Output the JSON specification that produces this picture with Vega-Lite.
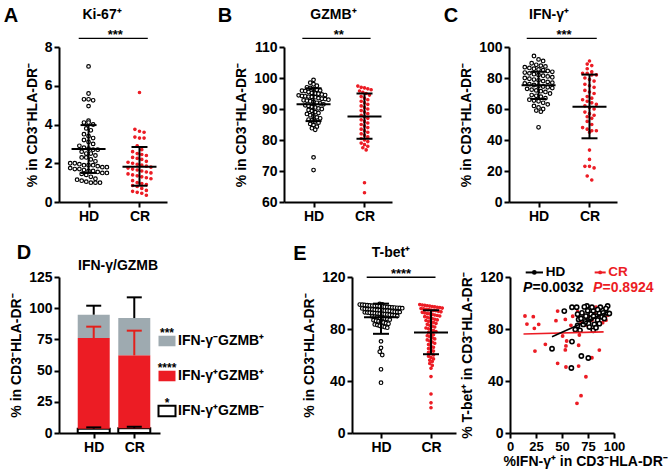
{
"$schema":"https://vega.github.io/schema/vega-lite/v6.json",
"background":"#ffffff",
"padding":{"left":3,"top":6,"right":5,"bottom":5},
"config":{
 "font":"Liberation Sans",
 "view":{"stroke":null},
 "axis":{"grid":false,"domainColor":"#000000","domainWidth":2,"tickColor":"#000000","tickWidth":2,"tickSize":5,"labelColor":"#000000","labelFontWeight":"bold","labelFontSize":14,"labelPadding":2,"titleColor":"#000000","titleFontWeight":"bold","titleFontSize":14,"titlePadding":5,"labelFont":"Liberation Sans","titleFont":"Liberation Sans"},
 "axisX":{"labelAngle":0,"labelFlush":false},
 "text":{"fontWeight":"bold","font":"Liberation Sans","color":"#000000"},
 "point":{"opacity":1},"tick":{"opacity":1}
},
"datasets":{
 "a":[{"g":"HD","v":7.0},{"g":"HD","v":5.6},{"g":"HD","v":5.3},{"g":"HD","v":5.3},{"g":"HD","v":5.25},{"g":"HD","v":4.95},{"g":"HD","v":4.2},{"g":"HD","v":4.1},{"g":"HD","v":4.1},{"g":"HD","v":4.0},{"g":"HD","v":3.8},{"g":"HD","v":3.7},{"g":"HD","v":3.5},{"g":"HD","v":3.4},{"g":"HD","v":3.3},{"g":"HD","v":3.2},{"g":"HD","v":3.1},{"g":"HD","v":3.0},{"g":"HD","v":2.9},{"g":"HD","v":2.8},{"g":"HD","v":2.75},{"g":"HD","v":2.7},{"g":"HD","v":2.7},{"g":"HD","v":2.6},{"g":"HD","v":2.5},{"g":"HD","v":2.5},{"g":"HD","v":2.4},{"g":"HD","v":2.3},{"g":"HD","v":2.3},{"g":"HD","v":2.2},{"g":"HD","v":2.1},{"g":"HD","v":2.0},{"g":"HD","v":2.0},{"g":"HD","v":1.95},{"g":"HD","v":1.9},{"g":"HD","v":1.9},{"g":"HD","v":1.9},{"g":"HD","v":1.85},{"g":"HD","v":1.8},{"g":"HD","v":1.8},{"g":"HD","v":1.75},{"g":"HD","v":1.7},{"g":"HD","v":1.7},{"g":"HD","v":1.65},{"g":"HD","v":1.6},{"g":"HD","v":1.6},{"g":"HD","v":1.55},{"g":"HD","v":1.5},{"g":"HD","v":1.5},{"g":"HD","v":1.45},{"g":"HD","v":1.4},{"g":"HD","v":1.3},{"g":"HD","v":1.2},{"g":"HD","v":1.15},{"g":"HD","v":1.1},{"g":"HD","v":1.05},{"g":"HD","v":1.0},{"g":"HD","v":1.0},{"g":"HD","v":1.0},
 {"g":"CR","v":5.65},{"g":"CR","v":3.75},{"g":"CR","v":3.65},{"g":"CR","v":3.6},{"g":"CR","v":3.35},{"g":"CR","v":3.3},{"g":"CR","v":3.3},{"g":"CR","v":2.9},{"g":"CR","v":2.7},{"g":"CR","v":2.6},{"g":"CR","v":2.5},{"g":"CR","v":2.45},{"g":"CR","v":2.4},{"g":"CR","v":2.3},{"g":"CR","v":2.25},{"g":"CR","v":2.2},{"g":"CR","v":2.1},{"g":"CR","v":2.05},{"g":"CR","v":2.0},{"g":"CR","v":1.95},{"g":"CR","v":1.9},{"g":"CR","v":1.85},{"g":"CR","v":1.8},{"g":"CR","v":1.75},{"g":"CR","v":1.7},{"g":"CR","v":1.65},{"g":"CR","v":1.6},{"g":"CR","v":1.55},{"g":"CR","v":1.5},{"g":"CR","v":1.45},{"g":"CR","v":1.4},{"g":"CR","v":1.35},{"g":"CR","v":1.3},{"g":"CR","v":1.25},{"g":"CR","v":1.2},{"g":"CR","v":1.1},{"g":"CR","v":1.0},{"g":"CR","v":0.95},{"g":"CR","v":0.9},{"g":"CR","v":0.85},{"g":"CR","v":0.8},{"g":"CR","v":0.7},{"g":"CR","v":0.6},{"g":"CR","v":0.55},{"g":"CR","v":0.5},{"g":"CR","v":0.45},{"g":"CR","v":0.35}],
 "a_s":[{"g":"HD","m":2.73,"lo":1.5,"hi":3.97},{"g":"CR","m":1.82,"lo":0.84,"hi":2.84}],
 "b":[{"g":"HD","v":99.4},{"g":"HD","v":98.5},{"g":"HD","v":98},{"g":"HD","v":97.5},{"g":"HD","v":97},{"g":"HD","v":96.8},{"g":"HD","v":96.5},{"g":"HD","v":96.2},{"g":"HD","v":96},{"g":"HD","v":95.9},{"g":"HD","v":95.8},{"g":"HD","v":95.5},{"g":"HD","v":95.2},{"g":"HD","v":95},{"g":"HD","v":94.9},{"g":"HD","v":94.7},{"g":"HD","v":94.5},{"g":"HD","v":94.4},{"g":"HD","v":94.2},{"g":"HD","v":94.1},{"g":"HD","v":94},{"g":"HD","v":93.9},{"g":"HD","v":93.8},{"g":"HD","v":93.5},{"g":"HD","v":93.3},{"g":"HD","v":93.2},{"g":"HD","v":93},{"g":"HD","v":92.8},{"g":"HD","v":92.7},{"g":"HD","v":92.5},{"g":"HD","v":92.3},{"g":"HD","v":92},{"g":"HD","v":91.8},{"g":"HD","v":91.5},{"g":"HD","v":91.2},{"g":"HD","v":91},{"g":"HD","v":90.7},{"g":"HD","v":90.5},{"g":"HD","v":90.2},{"g":"HD","v":90},{"g":"HD","v":89.7},{"g":"HD","v":89.4},{"g":"HD","v":89},{"g":"HD","v":88.7},{"g":"HD","v":88.4},{"g":"HD","v":88},{"g":"HD","v":87.6},{"g":"HD","v":87.3},{"g":"HD","v":87},{"g":"HD","v":86.6},{"g":"HD","v":86.3},{"g":"HD","v":86},{"g":"HD","v":85.6},{"g":"HD","v":85.2},{"g":"HD","v":84.8},{"g":"HD","v":84.3},{"g":"HD","v":83.8},{"g":"HD","v":83.3},{"g":"HD","v":74.4},{"g":"HD","v":70.3},
 {"g":"CR","v":97.4},{"g":"CR","v":97},{"g":"CR","v":96.8},{"g":"CR","v":96.5},{"g":"CR","v":96.2},{"g":"CR","v":95.8},{"g":"CR","v":95.4},{"g":"CR","v":95},{"g":"CR","v":94.5},{"g":"CR","v":94},{"g":"CR","v":93.5},{"g":"CR","v":93},{"g":"CR","v":92.5},{"g":"CR","v":92},{"g":"CR","v":91.5},{"g":"CR","v":91},{"g":"CR","v":90.5},{"g":"CR","v":90},{"g":"CR","v":89.5},{"g":"CR","v":89},{"g":"CR","v":88.5},{"g":"CR","v":88},{"g":"CR","v":87.5},{"g":"CR","v":87},{"g":"CR","v":86.5},{"g":"CR","v":86},{"g":"CR","v":85.5},{"g":"CR","v":85},{"g":"CR","v":84.5},{"g":"CR","v":84},{"g":"CR","v":83.5},{"g":"CR","v":83},{"g":"CR","v":82.5},{"g":"CR","v":82},{"g":"CR","v":81.5},{"g":"CR","v":81},{"g":"CR","v":80.5},{"g":"CR","v":80},{"g":"CR","v":79.5},{"g":"CR","v":79},{"g":"CR","v":78.5},{"g":"CR","v":78},{"g":"CR","v":77.5},{"g":"CR","v":76.8},{"g":"CR","v":66.2},{"g":"CR","v":63.0}],
 "b_s":[{"g":"HD","m":91.5,"lo":86.1,"hi":96.7},{"g":"CR","m":87.6,"lo":80.4,"hi":95.0}],
 "c":[{"g":"HD","v":94.2},{"g":"HD","v":92},{"g":"HD","v":91},{"g":"HD","v":89.5},{"g":"HD","v":88.5},{"g":"HD","v":88},{"g":"HD","v":87.5},{"g":"HD","v":87},{"g":"HD","v":86.5},{"g":"HD","v":86},{"g":"HD","v":85.5},{"g":"HD","v":85},{"g":"HD","v":84.5},{"g":"HD","v":84},{"g":"HD","v":83.5},{"g":"HD","v":83},{"g":"HD","v":82.5},{"g":"HD","v":82},{"g":"HD","v":81.5},{"g":"HD","v":81},{"g":"HD","v":80.5},{"g":"HD","v":80},{"g":"HD","v":79.5},{"g":"HD","v":79},{"g":"HD","v":78.5},{"g":"HD","v":78},{"g":"HD","v":77.5},{"g":"HD","v":77},{"g":"HD","v":76.5},{"g":"HD","v":76},{"g":"HD","v":75.5},{"g":"HD","v":75},{"g":"HD","v":74.5},{"g":"HD","v":74},{"g":"HD","v":73.5},{"g":"HD","v":73},{"g":"HD","v":72.5},{"g":"HD","v":72},{"g":"HD","v":71.5},{"g":"HD","v":71},{"g":"HD","v":70},{"g":"HD","v":69},{"g":"HD","v":68.5},{"g":"HD","v":68},{"g":"HD","v":67},{"g":"HD","v":66},{"g":"HD","v":65.5},{"g":"HD","v":65},{"g":"HD","v":64},{"g":"HD","v":63},{"g":"HD","v":62},{"g":"HD","v":61},{"g":"HD","v":60},{"g":"HD","v":59},{"g":"HD","v":58.3},{"g":"HD","v":48.2},
 {"g":"CR","v":91},{"g":"CR","v":89},{"g":"CR","v":88},{"g":"CR","v":86},{"g":"CR","v":84},{"g":"CR","v":83},{"g":"CR","v":83},{"g":"CR","v":82},{"g":"CR","v":82},{"g":"CR","v":80},{"g":"CR","v":79},{"g":"CR","v":78},{"g":"CR","v":76},{"g":"CR","v":75},{"g":"CR","v":74},{"g":"CR","v":72},{"g":"CR","v":71},{"g":"CR","v":70},{"g":"CR","v":68},{"g":"CR","v":67},{"g":"CR","v":66},{"g":"CR","v":65},{"g":"CR","v":64},{"g":"CR","v":63},{"g":"CR","v":62},{"g":"CR","v":61},{"g":"CR","v":60},{"g":"CR","v":58},{"g":"CR","v":57},{"g":"CR","v":56},{"g":"CR","v":55},{"g":"CR","v":54},{"g":"CR","v":52},{"g":"CR","v":50},{"g":"CR","v":48},{"g":"CR","v":47},{"g":"CR","v":46},{"g":"CR","v":46},{"g":"CR","v":45},{"g":"CR","v":33.5},{"g":"CR","v":27.5},{"g":"CR","v":23},{"g":"CR","v":23},{"g":"CR","v":22},{"g":"CR","v":16.8},{"g":"CR","v":14.2}],
 "c_s":[{"g":"HD","m":75.3,"lo":66.5,"hi":84.1},{"g":"CR","m":61.5,"lo":41.1,"hi":82.2}],
 "e":[{"g":"HD","v":99.3},{"g":"HD","v":99},{"g":"HD","v":98.8},{"g":"HD","v":98.7},{"g":"HD","v":98.5},{"g":"HD","v":98.3},{"g":"HD","v":98.1},{"g":"HD","v":98},{"g":"HD","v":97.9},{"g":"HD","v":97.8},{"g":"HD","v":97.5},{"g":"HD","v":97.3},{"g":"HD","v":97.1},{"g":"HD","v":97},{"g":"HD","v":96.8},{"g":"HD","v":96.6},{"g":"HD","v":96.5},{"g":"HD","v":96.3},{"g":"HD","v":96.2},{"g":"HD","v":96},{"g":"HD","v":95.8},{"g":"HD","v":95.5},{"g":"HD","v":95.3},{"g":"HD","v":95.1},{"g":"HD","v":95},{"g":"HD","v":94.8},{"g":"HD","v":94.6},{"g":"HD","v":94.5},{"g":"HD","v":94.3},{"g":"HD","v":94.1},{"g":"HD","v":94},{"g":"HD","v":93.8},{"g":"HD","v":93.5},{"g":"HD","v":93.3},{"g":"HD","v":93.1},{"g":"HD","v":93},{"g":"HD","v":92.8},{"g":"HD","v":92.6},{"g":"HD","v":92.5},{"g":"HD","v":92.3},{"g":"HD","v":92.1},{"g":"HD","v":92},{"g":"HD","v":91.8},{"g":"HD","v":91.5},{"g":"HD","v":91.3},{"g":"HD","v":91.1},{"g":"HD","v":91},{"g":"HD","v":90.7},{"g":"HD","v":90.4},{"g":"HD","v":90},{"g":"HD","v":89.7},{"g":"HD","v":89.4},{"g":"HD","v":89},{"g":"HD","v":88.7},{"g":"HD","v":88.4},{"g":"HD","v":88},{"g":"HD","v":87.6},{"g":"HD","v":87.2},{"g":"HD","v":86.8},{"g":"HD","v":86.4},{"g":"HD","v":86},{"g":"HD","v":85.5},{"g":"HD","v":85},{"g":"HD","v":84.5},{"g":"HD","v":84},{"g":"HD","v":83.5},{"g":"HD","v":83},{"g":"HD","v":82.5},{"g":"HD","v":82},{"g":"HD","v":81.5},{"g":"HD","v":81},{"g":"HD","v":70.5},{"g":"HD","v":65.5},{"g":"HD","v":62.5},{"g":"HD","v":60},{"g":"HD","v":49},{"g":"HD","v":38.7},
 {"g":"CR","v":98.8},{"g":"CR","v":98.5},{"g":"CR","v":98.2},{"g":"CR","v":97.9},{"g":"CR","v":97.6},{"g":"CR","v":97.3},{"g":"CR","v":97},{"g":"CR","v":96.7},{"g":"CR","v":96.4},{"g":"CR","v":96.1},{"g":"CR","v":95.8},{"g":"CR","v":95.5},{"g":"CR","v":95.2},{"g":"CR","v":94.9},{"g":"CR","v":94.6},{"g":"CR","v":94.3},{"g":"CR","v":94},{"g":"CR","v":93.6},{"g":"CR","v":93.2},{"g":"CR","v":92.8},{"g":"CR","v":92.4},{"g":"CR","v":92},{"g":"CR","v":91.6},{"g":"CR","v":91.2},{"g":"CR","v":90.8},{"g":"CR","v":90.4},{"g":"CR","v":90},{"g":"CR","v":89.5},{"g":"CR","v":89},{"g":"CR","v":88.5},{"g":"CR","v":88},{"g":"CR","v":87.5},{"g":"CR","v":87},{"g":"CR","v":86.5},{"g":"CR","v":86},{"g":"CR","v":85.5},{"g":"CR","v":85},{"g":"CR","v":84.3},{"g":"CR","v":83.6},{"g":"CR","v":82.9},{"g":"CR","v":82.2},{"g":"CR","v":81.5},{"g":"CR","v":80.8},{"g":"CR","v":80.1},{"g":"CR","v":79.4},{"g":"CR","v":78.7},{"g":"CR","v":78},{"g":"CR","v":77.2},{"g":"CR","v":76.4},{"g":"CR","v":75.6},{"g":"CR","v":74.8},{"g":"CR","v":74},{"g":"CR","v":73.2},{"g":"CR","v":72.4},{"g":"CR","v":71.6},{"g":"CR","v":70.8},{"g":"CR","v":70},{"g":"CR","v":69},{"g":"CR","v":68},{"g":"CR","v":67},{"g":"CR","v":66},{"g":"CR","v":65},{"g":"CR","v":64},{"g":"CR","v":63},{"g":"CR","v":62},{"g":"CR","v":61},{"g":"CR","v":60},{"g":"CR","v":59},{"g":"CR","v":58},{"g":"CR","v":57},{"g":"CR","v":56},{"g":"CR","v":55},{"g":"CR","v":53.5},{"g":"CR","v":52},{"g":"CR","v":49.8},{"g":"CR","v":43.4},{"g":"CR","v":30},{"g":"CR","v":23.2},{"g":"CR","v":19.4}],
 "e_s":[{"g":"HD","m":89.0,"lo":76.3,"hi":99.5},{"g":"CR","m":77.4,"lo":60.6,"hi":94.4}],
 "d":[{"g":"HD","ord":1,"v":3.5,"sd":1.0},{"g":"HD","ord":2,"v":72.6,"sd":9.1},{"g":"HD","ord":3,"v":18.7,"sd":7.2},{"g":"CR","ord":1,"v":3.8,"sd":1.2},{"g":"CR","ord":2,"v":58.4,"sd":19.8},{"g":"CR","ord":3,"v":29.9,"sd":16.6}],
 "dleg":[{"seg":"IFN-γ⁻GZMB⁺","stars":"***","ord":3},{"seg":"IFN-γ⁺GZMB⁺","stars":"****","ord":2},{"seg":"IFN-γ⁺GZMB⁻","stars":"*","ord":1}],
 "f":[{"g":"HD","x":40.4,"y":64.8},{"g":"HD","x":59.6,"y":70.3},{"g":"HD","x":59,"y":50},{"g":"HD","x":68.6,"y":59.2},{"g":"HD","x":75.3,"y":57.7},{"g":"HD","x":52.2,"y":93.8},{"g":"HD","x":59.6,"y":96.7},{"g":"HD","x":64.1,"y":96.7},{"g":"HD","x":74,"y":97.7},{"g":"HD","x":65,"y":91.4},{"g":"HD","x":66,"y":87.3},{"g":"HD","x":62.8,"y":79.6},{"g":"HD","x":67.3,"y":79},{"g":"HD","x":70.5,"y":83.5},{"g":"HD","x":75.6,"y":86.2},{"g":"HD","x":77.9,"y":91.4},{"g":"HD","x":80.1,"y":94},{"g":"HD","x":82.7,"y":89.9},{"g":"HD","x":85.9,"y":92.4},{"g":"HD","x":89.1,"y":94.5},{"g":"HD","x":92.3,"y":92.4},{"g":"HD","x":93.9,"y":97.7},{"g":"HD","x":88.5,"y":89.3},{"g":"HD","x":81.1,"y":83.6},{"g":"HD","x":80.1,"y":79},{"g":"HD","x":75.6,"y":84.1},{"g":"HD","x":73,"y":89.9},{"g":"HD","x":69.2,"y":92.4},{"g":"HD","x":71.5,"y":97},{"g":"HD","x":84.3,"y":86.8},{"g":"HD","x":90.7,"y":88.1},{"g":"HD","x":78.8,"y":96.7},{"g":"HD","x":86.9,"y":96.7},{"g":"HD","x":95.5,"y":91.9},{"g":"HD","x":82.7,"y":81},{"g":"HD","x":76.3,"y":81.5},{"g":"HD","x":68.3,"y":88.1},{"g":"HD","x":74.7,"y":94},{"g":"HD","x":92.3,"y":95.7},{"g":"HD","x":77.9,"y":88.1},{"g":"HD","x":72.4,"y":85.5},{"g":"HD","x":85.9,"y":84.1},{"g":"HD","x":80.4,"y":89.8},{"g":"HD","x":84.3,"y":94.9},{"g":"HD","x":89.7,"y":92.4},{"g":"HD","x":65,"y":82.7},
 {"g":"CR","x":14.4,"y":90},{"g":"CR","x":22.4,"y":89.5},{"g":"CR","x":16.3,"y":83.8},{"g":"CR","x":27.6,"y":83.6},{"g":"CR","x":23.4,"y":80.5},{"g":"CR","x":24,"y":63},{"g":"CR","x":34,"y":68.2},{"g":"CR","x":45.8,"y":93.8},{"g":"CR","x":44.2,"y":86.4},{"g":"CR","x":53.2,"y":87.4},{"g":"CR","x":50.6,"y":74.6},{"g":"CR","x":54.5,"y":70.8},{"g":"CR","x":53.8,"y":67},{"g":"CR","x":53.2,"y":63.9},{"g":"CR","x":45.8,"y":53.6},{"g":"CR","x":53.8,"y":50.8},{"g":"CR","x":66,"y":51.5},{"g":"CR","x":66.7,"y":75.4},{"g":"CR","x":66,"y":67.5},{"g":"CR","x":73,"y":43.3},{"g":"CR","x":68.3,"y":28.7},{"g":"CR","x":64.4,"y":22.8},{"g":"CR","x":78.8,"y":57.9},{"g":"CR","x":85.9,"y":63.8},{"g":"CR","x":89.1,"y":84.9},{"g":"CR","x":69.9,"y":91.9},{"g":"CR","x":76.3,"y":89.9},{"g":"CR","x":81.1,"y":92.4},{"g":"CR","x":87.5,"y":89.3},{"g":"CR","x":92.3,"y":86.8},{"g":"CR","x":73,"y":83},{"g":"CR","x":65,"y":93.3},{"g":"CR","x":82.7,"y":96.7},{"g":"CR","x":93.9,"y":90.6},{"g":"CR","x":78.8,"y":86.8},{"g":"CR","x":60.3,"y":89.8},{"g":"CR","x":58.6,"y":82.8},{"g":"CR","x":68.3,"y":85.4}],
 "fl":[{"g":"HD","x":40.4,"y":74.1},{"g":"HD","x":95,"y":93.7},{"g":"CR","x":13,"y":76.2},{"g":"CR","x":90,"y":77.8}]
},
"spacing":20,
"vconcat":[
{"hconcat":[
 {"width":108,"height":155,"layer":[
  {"data":{"name":"a"},"transform":[{"calculate":"floor(datum.v/0.3)","as":"bin"},{"window":[{"op":"row_number","as":"rk"},{"op":"count","as":"n"}],"groupby":["g","bin"],"frame":[null,null]},{"calculate":"(datum.g=='HD'?1:2)+(datum.rk-(datum.n+1)/2)*0.09","as":"xp"}],
   "mark":{"type":"point","shape":"circle","filled":true,"strokeWidth":1.2,"opacity":1},
   "encoding":{"x":{"field":"xp","type":"quantitative","scale":{"domain":[0.42,2.54],"nice":false,"zero":false},"axis":{"values":[1,2],"labelExpr":"datum.value==1?'HD':'CR'","title":null}},
    "y":{"field":"v","type":"quantitative","scale":{"domain":[0,8],"nice":false,"zero":false},"axis":{"values":[0,2,4,6,8],"title":"% in CD3⁻HLA-DR⁻"}},
    "fill":{"condition":{"test":"datum.g=='HD'","value":"#ffffff"},"value":"#ec1c24"},
    "stroke":{"condition":{"test":"datum.g=='HD'","value":"#000000"},"value":"#ec1c24"},
    "size":{"condition":{"test":"datum.g=='HD'","value":13},"value":6}}},
  {"data":{"name":"a_s"},"transform":[{"calculate":"datum.g=='HD'?1:2","as":"xi"}],"mark":{"type":"rule","strokeWidth":2,"color":"#000000"},
   "encoding":{"x":{"field":"xi","type":"quantitative","scale":{"domain":[0.42,2.54],"nice":false,"zero":false},"axis":{"values":[1,2],"labelExpr":"datum.value==1?'HD':'CR'","title":null}},
    "y":{"field":"lo","type":"quantitative","scale":{"domain":[0,8],"nice":false,"zero":false},"axis":{"values":[0,2,4,6,8],"title":"% in CD3⁻HLA-DR⁻"}},"y2":{"field":"hi"}}},
  {"data":{"name":"a_s"},"transform":[{"calculate":"datum.g=='HD'?1:2","as":"xi"}],"mark":{"type":"tick","orient":"horizontal","size":34,"thickness":2,"color":"#000000","opacity":1},
   "encoding":{"x":{"field":"xi","type":"quantitative","scale":{"domain":[0.42,2.54],"nice":false,"zero":false},"axis":{"values":[1,2],"labelExpr":"datum.value==1?'HD':'CR'","title":null}},
    "y":{"field":"m","type":"quantitative","scale":{"domain":[0,8],"nice":false,"zero":false},"axis":{"values":[0,2,4,6,8],"title":"% in CD3⁻HLA-DR⁻"}}}},
  {"data":{"name":"a_s"},"transform":[{"calculate":"datum.g=='HD'?1:2","as":"xi"},{"fold":["lo","hi"],"as":["k","val"]}],"mark":{"type":"tick","orient":"horizontal","size":16,"thickness":2,"color":"#000000","opacity":1},
   "encoding":{"x":{"field":"xi","type":"quantitative","scale":{"domain":[0.42,2.54],"nice":false,"zero":false},"axis":{"values":[1,2],"labelExpr":"datum.value==1?'HD':'CR'","title":null}},
    "y":{"field":"val","type":"quantitative","scale":{"domain":[0,8],"nice":false,"zero":false},"axis":{"values":[0,2,4,6,8],"title":"% in CD3⁻HLA-DR⁻"}}}},
  {"data":{"values":[{}]},"mark":{"type":"rule","strokeWidth":1.3,"color":"#000000"},
   "encoding":{"x":{"datum":0.807,"type":"quantitative","scale":{"domain":[0.42,2.54],"nice":false,"zero":false},"axis":{"values":[1,2],"labelExpr":"datum.value==1?'HD':'CR'","title":null}},"x2":{"datum":2.163},
    "y":{"datum":8.45,"type":"quantitative","scale":{"domain":[0,8],"nice":false,"zero":false},"axis":{"values":[0,2,4,6,8],"title":"% in CD3⁻HLA-DR⁻"}}}},
  {"data":{"values":[{}]},"mark":{"type":"text","fontSize":13,"baseline":"alphabetic","dy":1},
   "encoding":{"x":{"datum":1.526,"type":"quantitative","scale":{"domain":[0.42,2.54],"nice":false,"zero":false},"axis":{"values":[1,2],"labelExpr":"datum.value==1?'HD':'CR'","title":null}},
    "y":{"datum":8.45,"type":"quantitative","scale":{"domain":[0,8],"nice":false,"zero":false},"axis":{"values":[0,2,4,6,8],"title":"% in CD3⁻HLA-DR⁻"}},"text":{"value":"***"}}},
  {"data":{"values":[{}]},"mark":{"type":"text","fontSize":14,"baseline":"middle"},
   "encoding":{"x":{"datum":1.265,"type":"quantitative","scale":{"domain":[0.42,2.54],"nice":false,"zero":false},"axis":{"values":[1,2],"labelExpr":"datum.value==1?'HD':'CR'","title":null}},
    "y":{"datum":9.65,"type":"quantitative","scale":{"domain":[0,8],"nice":false,"zero":false},"axis":{"values":[0,2,4,6,8],"title":"% in CD3⁻HLA-DR⁻"}},"text":{"value":"Ki-67⁺"}}},
  {"data":{"values":[{}]},"mark":{"type":"text","fontSize":20,"baseline":"middle"},
   "encoding":{"x":{"datum":-0.523,"type":"quantitative","scale":{"domain":[0.42,2.54],"nice":false,"zero":false},"axis":{"values":[1,2],"labelExpr":"datum.value==1?'HD':'CR'","title":null}},
    "y":{"datum":9.6,"type":"quantitative","scale":{"domain":[0,8],"nice":false,"zero":false},"axis":{"values":[0,2,4,6,8],"title":"% in CD3⁻HLA-DR⁻"}},"text":{"value":"A"}}}
 ]},
 {"width":108,"height":155,"layer":[
  {"data":{"name":"b"},"transform":[{"calculate":"floor(datum.v/1.5)","as":"bin"},{"window":[{"op":"row_number","as":"rk"},{"op":"count","as":"n"}],"groupby":["g","bin"],"frame":[null,null]},{"calculate":"(datum.g=='HD'?1:2)+(datum.rk-(datum.n+1)/2)*0.065","as":"xp"}],
   "mark":{"type":"point","shape":"circle","filled":true,"strokeWidth":1.2,"opacity":1},
   "encoding":{"x":{"field":"xp","type":"quantitative","scale":{"domain":[0.42,2.54],"nice":false,"zero":false},"axis":{"values":[1,2],"labelExpr":"datum.value==1?'HD':'CR'","title":null}},
    "y":{"field":"v","type":"quantitative","scale":{"domain":[60,110],"nice":false,"zero":false},"axis":{"values":[60,70,80,90,100,110],"title":"% in CD3⁻HLA-DR⁻"}},
    "fill":{"condition":{"test":"datum.g=='HD'","value":"#ffffff"},"value":"#ec1c24"},
    "stroke":{"condition":{"test":"datum.g=='HD'","value":"#000000"},"value":"#ec1c24"},
    "size":{"condition":{"test":"datum.g=='HD'","value":13},"value":6}}},
  {"data":{"name":"b_s"},"transform":[{"calculate":"datum.g=='HD'?1:2","as":"xi"}],"mark":{"type":"rule","strokeWidth":2,"color":"#000000"},
   "encoding":{"x":{"field":"xi","type":"quantitative","scale":{"domain":[0.42,2.54],"nice":false,"zero":false},"axis":{"values":[1,2],"labelExpr":"datum.value==1?'HD':'CR'","title":null}},
    "y":{"field":"lo","type":"quantitative","scale":{"domain":[60,110],"nice":false,"zero":false},"axis":{"values":[60,70,80,90,100,110],"title":"% in CD3⁻HLA-DR⁻"}},"y2":{"field":"hi"}}},
  {"data":{"name":"b_s"},"transform":[{"calculate":"datum.g=='HD'?1:2","as":"xi"}],"mark":{"type":"tick","orient":"horizontal","size":34,"thickness":2,"color":"#000000","opacity":1},
   "encoding":{"x":{"field":"xi","type":"quantitative","scale":{"domain":[0.42,2.54],"nice":false,"zero":false},"axis":{"values":[1,2],"labelExpr":"datum.value==1?'HD':'CR'","title":null}},
    "y":{"field":"m","type":"quantitative","scale":{"domain":[60,110],"nice":false,"zero":false},"axis":{"values":[60,70,80,90,100,110],"title":"% in CD3⁻HLA-DR⁻"}}}},
  {"data":{"name":"b_s"},"transform":[{"calculate":"datum.g=='HD'?1:2","as":"xi"},{"fold":["lo","hi"],"as":["k","val"]}],"mark":{"type":"tick","orient":"horizontal","size":16,"thickness":2,"color":"#000000","opacity":1},
   "encoding":{"x":{"field":"xi","type":"quantitative","scale":{"domain":[0.42,2.54],"nice":false,"zero":false},"axis":{"values":[1,2],"labelExpr":"datum.value==1?'HD':'CR'","title":null}},
    "y":{"field":"val","type":"quantitative","scale":{"domain":[60,110],"nice":false,"zero":false},"axis":{"values":[60,70,80,90,100,110],"title":"% in CD3⁻HLA-DR⁻"}}}},
  {"data":{"values":[{}]},"mark":{"type":"rule","strokeWidth":1.3,"color":"#000000"},
   "encoding":{"x":{"datum":0.78,"type":"quantitative","scale":{"domain":[0.42,2.54],"nice":false,"zero":false},"axis":{"values":[1,2],"labelExpr":"datum.value==1?'HD':'CR'","title":null}},"x2":{"datum":2.12},
    "y":{"datum":112.8,"type":"quantitative","scale":{"domain":[60,110],"nice":false,"zero":false},"axis":{"values":[60,70,80,90,100,110],"title":"% in CD3⁻HLA-DR⁻"}}}},
  {"data":{"values":[{}]},"mark":{"type":"text","fontSize":13,"baseline":"alphabetic","dy":1},
   "encoding":{"x":{"datum":1.497,"type":"quantitative","scale":{"domain":[0.42,2.54],"nice":false,"zero":false},"axis":{"values":[1,2],"labelExpr":"datum.value==1?'HD':'CR'","title":null}},
    "y":{"datum":112.8,"type":"quantitative","scale":{"domain":[60,110],"nice":false,"zero":false},"axis":{"values":[60,70,80,90,100,110],"title":"% in CD3⁻HLA-DR⁻"}},"text":{"value":"**"}}},
  {"data":{"values":[{}]},"mark":{"type":"text","fontSize":14,"baseline":"middle"},
   "encoding":{"x":{"datum":1.39,"type":"quantitative","scale":{"domain":[0.42,2.54],"nice":false,"zero":false},"axis":{"values":[1,2],"labelExpr":"datum.value==1?'HD':'CR'","title":null}},
    "y":{"datum":120.3,"type":"quantitative","scale":{"domain":[60,110],"nice":false,"zero":false},"axis":{"values":[60,70,80,90,100,110],"title":"% in CD3⁻HLA-DR⁻"}},"text":{"value":"GZMB⁺"}}},
  {"data":{"values":[{}]},"mark":{"type":"text","fontSize":20,"baseline":"middle"},
   "encoding":{"x":{"datum":-0.739,"type":"quantitative","scale":{"domain":[0.42,2.54],"nice":false,"zero":false},"axis":{"values":[1,2],"labelExpr":"datum.value==1?'HD':'CR'","title":null}},
    "y":{"datum":120,"type":"quantitative","scale":{"domain":[60,110],"nice":false,"zero":false},"axis":{"values":[60,70,80,90,100,110],"title":"% in CD3⁻HLA-DR⁻"}},"text":{"value":"B"}}}
 ]},
 {"width":108,"height":155,"layer":[
  {"data":{"name":"c"},"transform":[{"calculate":"floor(datum.v/3.5)","as":"bin"},{"window":[{"op":"row_number","as":"rk"},{"op":"count","as":"n"}],"groupby":["g","bin"],"frame":[null,null]},{"calculate":"(datum.g=='HD'?1:2)+(datum.rk-(datum.n+1)/2)*0.09","as":"xp"}],
   "mark":{"type":"point","shape":"circle","filled":true,"strokeWidth":1.2,"opacity":1},
   "encoding":{"x":{"field":"xp","type":"quantitative","scale":{"domain":[0.42,2.54],"nice":false,"zero":false},"axis":{"values":[1,2],"labelExpr":"datum.value==1?'HD':'CR'","title":null}},
    "y":{"field":"v","type":"quantitative","scale":{"domain":[0,100],"nice":false,"zero":false},"axis":{"values":[0,20,40,60,80,100],"title":"% in CD3⁻HLA-DR⁻"}},
    "fill":{"condition":{"test":"datum.g=='HD'","value":"#ffffff"},"value":"#ec1c24"},
    "stroke":{"condition":{"test":"datum.g=='HD'","value":"#000000"},"value":"#ec1c24"},
    "size":{"condition":{"test":"datum.g=='HD'","value":13},"value":6}}},
  {"data":{"name":"c_s"},"transform":[{"calculate":"datum.g=='HD'?1:2","as":"xi"}],"mark":{"type":"rule","strokeWidth":2,"color":"#000000"},
   "encoding":{"x":{"field":"xi","type":"quantitative","scale":{"domain":[0.42,2.54],"nice":false,"zero":false},"axis":{"values":[1,2],"labelExpr":"datum.value==1?'HD':'CR'","title":null}},
    "y":{"field":"lo","type":"quantitative","scale":{"domain":[0,100],"nice":false,"zero":false},"axis":{"values":[0,20,40,60,80,100],"title":"% in CD3⁻HLA-DR⁻"}},"y2":{"field":"hi"}}},
  {"data":{"name":"c_s"},"transform":[{"calculate":"datum.g=='HD'?1:2","as":"xi"}],"mark":{"type":"tick","orient":"horizontal","size":34,"thickness":2,"color":"#000000","opacity":1},
   "encoding":{"x":{"field":"xi","type":"quantitative","scale":{"domain":[0.42,2.54],"nice":false,"zero":false},"axis":{"values":[1,2],"labelExpr":"datum.value==1?'HD':'CR'","title":null}},
    "y":{"field":"m","type":"quantitative","scale":{"domain":[0,100],"nice":false,"zero":false},"axis":{"values":[0,20,40,60,80,100],"title":"% in CD3⁻HLA-DR⁻"}}}},
  {"data":{"name":"c_s"},"transform":[{"calculate":"datum.g=='HD'?1:2","as":"xi"},{"fold":["lo","hi"],"as":["k","val"]}],"mark":{"type":"tick","orient":"horizontal","size":16,"thickness":2,"color":"#000000","opacity":1},
   "encoding":{"x":{"field":"xi","type":"quantitative","scale":{"domain":[0.42,2.54],"nice":false,"zero":false},"axis":{"values":[1,2],"labelExpr":"datum.value==1?'HD':'CR'","title":null}},
    "y":{"field":"val","type":"quantitative","scale":{"domain":[0,100],"nice":false,"zero":false},"axis":{"values":[0,20,40,60,80,100],"title":"% in CD3⁻HLA-DR⁻"}}}},
  {"data":{"values":[{}]},"mark":{"type":"rule","strokeWidth":1.3,"color":"#000000"},
   "encoding":{"x":{"datum":0.768,"type":"quantitative","scale":{"domain":[0.42,2.54],"nice":false,"zero":false},"axis":{"values":[1,2],"labelExpr":"datum.value==1?'HD':'CR'","title":null}},"x2":{"datum":2.143},
    "y":{"datum":105.6,"type":"quantitative","scale":{"domain":[0,100],"nice":false,"zero":false},"axis":{"values":[0,20,40,60,80,100],"title":"% in CD3⁻HLA-DR⁻"}}}},
  {"data":{"values":[{}]},"mark":{"type":"text","fontSize":13,"baseline":"alphabetic","dy":1},
   "encoding":{"x":{"datum":1.5,"type":"quantitative","scale":{"domain":[0.42,2.54],"nice":false,"zero":false},"axis":{"values":[1,2],"labelExpr":"datum.value==1?'HD':'CR'","title":null}},
    "y":{"datum":105.6,"type":"quantitative","scale":{"domain":[0,100],"nice":false,"zero":false},"axis":{"values":[0,20,40,60,80,100],"title":"% in CD3⁻HLA-DR⁻"}},"text":{"value":"***"}}},
  {"data":{"values":[{}]},"mark":{"type":"text","fontSize":14,"baseline":"middle"},
   "encoding":{"x":{"datum":1.206,"type":"quantitative","scale":{"domain":[0.42,2.54],"nice":false,"zero":false},"axis":{"values":[1,2],"labelExpr":"datum.value==1?'HD':'CR'","title":null}},
    "y":{"datum":120.6,"type":"quantitative","scale":{"domain":[0,100],"nice":false,"zero":false},"axis":{"values":[0,20,40,60,80,100],"title":"% in CD3⁻HLA-DR⁻"}},"text":{"value":"IFN-γ⁺"}}},
  {"data":{"values":[{}]},"mark":{"type":"text","fontSize":20,"baseline":"middle"},
   "encoding":{"x":{"datum":-0.72,"type":"quantitative","scale":{"domain":[0.42,2.54],"nice":false,"zero":false},"axis":{"values":[1,2],"labelExpr":"datum.value==1?'HD':'CR'","title":null}},
    "y":{"datum":120,"type":"quantitative","scale":{"domain":[0,100],"nice":false,"zero":false},"axis":{"values":[0,20,40,60,80,100],"title":"% in CD3⁻HLA-DR⁻"}},"text":{"value":"C"}}}
 ]}
],"spacing":117,"bounds":"flush"},
{"hconcat":[
  {"width":101,"height":156,"layer":[
   {"data":{"name":"d"},"transform":[{"stack":"v","groupby":["g"],"sort":[{"field":"ord","order":"ascending"}],"as":["y0","y1"]},{"calculate":"datum.g=='HD'?1:2","as":"xi"}],
    "mark":{"type":"bar","width":32,"strokeWidth":2,"opacity":1},
    "encoding":{"x":{"field":"xi","type":"quantitative","scale":{"domain":[0.267,2.511],"nice":false,"zero":false},"axis":{"values":[1,2],"labelExpr":"datum.value==1?'HD':'CR'","title":null}},
     "y":{"field":"y0","type":"quantitative","scale":{"domain":[0,125],"nice":false,"zero":false},"axis":{"values":[0,25,50,75,100,125],"title":"% in CD3⁻HLA-DR⁻"}},"y2":{"field":"y1"},
     "fill":{"condition":[{"test":"datum.ord==1","value":"#ffffff"},{"test":"datum.ord==2","value":"#ec1c24"}],"value":"#9eaab0"},
     "stroke":{"condition":{"test":"datum.ord==1","value":"#000000"},"value":"transparent"}}},
   {"data":{"name":"d"},"transform":[{"stack":"v","groupby":["g"],"sort":[{"field":"ord","order":"ascending"}],"as":["y0","y1"]},{"calculate":"datum.g=='HD'?1:2","as":"xi"},{"calculate":"datum.y1+datum.sd","as":"top"}],
    "mark":{"type":"rule","strokeWidth":2},
    "encoding":{"x":{"field":"xi","type":"quantitative","scale":{"domain":[0.267,2.511],"nice":false,"zero":false},"axis":{"values":[1,2],"labelExpr":"datum.value==1?'HD':'CR'","title":null}},
     "y":{"field":"y1","type":"quantitative","scale":{"domain":[0,125],"nice":false,"zero":false},"axis":{"values":[0,25,50,75,100,125],"title":"% in CD3⁻HLA-DR⁻"}},"y2":{"field":"top"},
     "color":{"condition":{"test":"datum.ord==2","value":"#e3201b"},"value":"#000000"}}},
   {"data":{"name":"d"},"transform":[{"stack":"v","groupby":["g"],"sort":[{"field":"ord","order":"ascending"}],"as":["y0","y1"]},{"calculate":"datum.g=='HD'?1:2","as":"xi"},{"calculate":"datum.y1+datum.sd","as":"top"}],
    "mark":{"type":"tick","orient":"horizontal","size":15,"thickness":2,"opacity":1},
    "encoding":{"x":{"field":"xi","type":"quantitative","scale":{"domain":[0.267,2.511],"nice":false,"zero":false},"axis":{"values":[1,2],"labelExpr":"datum.value==1?'HD':'CR'","title":null}},
     "y":{"field":"top","type":"quantitative","scale":{"domain":[0,125],"nice":false,"zero":false},"axis":{"values":[0,25,50,75,100,125],"title":"% in CD3⁻HLA-DR⁻"}},
     "color":{"condition":{"test":"datum.ord==2","value":"#e3201b"},"value":"#000000"}}},
   {"data":{"values":[{}]},"mark":{"type":"text","fontSize":14,"baseline":"middle"},
    "encoding":{"x":{"datum":1.6,"type":"quantitative","scale":{"domain":[0.267,2.511],"nice":false,"zero":false},"axis":{"values":[1,2],"labelExpr":"datum.value==1?'HD':'CR'","title":null}},
     "y":{"datum":133.8,"type":"quantitative","scale":{"domain":[0,125],"nice":false,"zero":false},"axis":{"values":[0,25,50,75,100,125],"title":"% in CD3⁻HLA-DR⁻"}},"text":{"value":"IFN-γ/GZMB"}}},
   {"data":{"values":[{}]},"mark":{"type":"text","fontSize":20,"baseline":"middle"},
    "encoding":{"x":{"datum":-0.72,"type":"quantitative","scale":{"domain":[0.267,2.511],"nice":false,"zero":false},"axis":{"values":[1,2],"labelExpr":"datum.value==1?'HD':'CR'","title":null}},
     "y":{"datum":144.2,"type":"quantitative","scale":{"domain":[0,125],"nice":false,"zero":false},"axis":{"values":[0,25,50,75,100,125],"title":"% in CD3⁻HLA-DR⁻"}},"text":{"value":"D"}}}
  ]},
  {"width":84,"height":156,"data":{"name":"dleg"},"layer":[
   {"mark":{"type":"point","shape":"M-1,-0.62L1,-0.62L1,0.62L-1,0.62Z","filled":true,"size":289,"strokeWidth":2,"opacity":1},
    "encoding":{"x":{"datum":-47,"type":"quantitative","scale":{"domain":[0,84],"nice":false,"zero":false},"axis":null},
     "y":{"field":"seg","type":"ordinal","scale":{"type":"point","padding":0,"domain":["IFN-γ⁻GZMB⁺","IFN-γ⁺GZMB⁺","IFN-γ⁺GZMB⁻"],"range":[64,134]},"axis":null},
     "fill":{"condition":[{"test":"datum.ord==1","value":"#ffffff"},{"test":"datum.ord==2","value":"#ec1c24"}],"value":"#9eaab0"},
     "stroke":{"condition":{"test":"datum.ord==1","value":"#000000"},"value":"transparent"}}},
   {"mark":{"type":"text","align":"left","baseline":"middle","fontSize":14},
    "encoding":{"x":{"datum":-36,"type":"quantitative","scale":{"domain":[0,84],"nice":false,"zero":false},"axis":null},
     "y":{"field":"seg","type":"ordinal","scale":{"type":"point","padding":0,"domain":["IFN-γ⁻GZMB⁺","IFN-γ⁺GZMB⁺","IFN-γ⁺GZMB⁻"],"range":[64,134]},"axis":null},
     "text":{"field":"seg"}}},
   {"mark":{"type":"text","align":"center","baseline":"middle","fontSize":12,"dy":-8},
    "encoding":{"x":{"datum":-47,"type":"quantitative","scale":{"domain":[0,84],"nice":false,"zero":false},"axis":null},
     "y":{"field":"seg","type":"ordinal","scale":{"type":"point","padding":0,"domain":["IFN-γ⁻GZMB⁺","IFN-γ⁺GZMB⁺","IFN-γ⁺GZMB⁻"],"range":[64,134]},"axis":null},
     "text":{"field":"stars"}}}
  ]},
  {"width":104,"height":156,"layer":[
   {"data":{"name":"e"},"transform":[{"calculate":"floor(datum.v/3)","as":"bin"},{"window":[{"op":"row_number","as":"rk"},{"op":"count","as":"n"}],"groupby":["g","bin"],"frame":[null,null]},{"calculate":"(datum.g=='HD'?1:2)+(datum.rk-(datum.n+1)/2)*0.05","as":"xp"}],
    "mark":{"type":"point","shape":"circle","filled":true,"strokeWidth":1.2,"opacity":1},
    "encoding":{"x":{"field":"xp","type":"quantitative","scale":{"domain":[0.42,2.5],"nice":false,"zero":false},"axis":{"values":[1,2],"labelExpr":"datum.value==1?'HD':'CR'","title":null}},
     "y":{"field":"v","type":"quantitative","scale":{"domain":[0,120],"nice":false,"zero":false},"axis":{"values":[0,40,80,120],"title":"% in CD3⁻HLA-DR⁻"}},
     "fill":{"condition":{"test":"datum.g=='HD'","value":"#ffffff"},"value":"#ec1c24"},
     "stroke":{"condition":{"test":"datum.g=='HD'","value":"#000000"},"value":"#ec1c24"},
     "size":{"condition":{"test":"datum.g=='HD'","value":13},"value":6}}},
   {"data":{"name":"e_s"},"transform":[{"calculate":"datum.g=='HD'?1:2","as":"xi"}],"mark":{"type":"rule","strokeWidth":2,"color":"#000000"},
    "encoding":{"x":{"field":"xi","type":"quantitative","scale":{"domain":[0.42,2.5],"nice":false,"zero":false},"axis":{"values":[1,2],"labelExpr":"datum.value==1?'HD':'CR'","title":null}},
     "y":{"field":"lo","type":"quantitative","scale":{"domain":[0,120],"nice":false,"zero":false},"axis":{"values":[0,40,80,120],"title":"% in CD3⁻HLA-DR⁻"}},"y2":{"field":"hi"}}},
   {"data":{"name":"e_s"},"transform":[{"calculate":"datum.g=='HD'?1:2","as":"xi"}],"mark":{"type":"tick","orient":"horizontal","size":34,"thickness":2,"color":"#000000","opacity":1},
    "encoding":{"x":{"field":"xi","type":"quantitative","scale":{"domain":[0.42,2.5],"nice":false,"zero":false},"axis":{"values":[1,2],"labelExpr":"datum.value==1?'HD':'CR'","title":null}},
     "y":{"field":"m","type":"quantitative","scale":{"domain":[0,120],"nice":false,"zero":false},"axis":{"values":[0,40,80,120],"title":"% in CD3⁻HLA-DR⁻"}}}},
   {"data":{"name":"e_s"},"transform":[{"calculate":"datum.g=='HD'?1:2","as":"xi"},{"fold":["lo","hi"],"as":["k","val"]}],"mark":{"type":"tick","orient":"horizontal","size":16,"thickness":2,"color":"#000000","opacity":1},
    "encoding":{"x":{"field":"xi","type":"quantitative","scale":{"domain":[0.42,2.5],"nice":false,"zero":false},"axis":{"values":[1,2],"labelExpr":"datum.value==1?'HD':'CR'","title":null}},
     "y":{"field":"val","type":"quantitative","scale":{"domain":[0,120],"nice":false,"zero":false},"axis":{"values":[0,40,80,120],"title":"% in CD3⁻HLA-DR⁻"}}}},
   {"data":{"values":[{}]},"mark":{"type":"rule","strokeWidth":1.3,"color":"#000000"},
    "encoding":{"x":{"datum":0.714,"type":"quantitative","scale":{"domain":[0.42,2.5],"nice":false,"zero":false},"axis":{"values":[1,2],"labelExpr":"datum.value==1?'HD':'CR'","title":null}},"x2":{"datum":2.09},
     "y":{"datum":119.8,"type":"quantitative","scale":{"domain":[0,120],"nice":false,"zero":false},"axis":{"values":[0,40,80,120],"title":"% in CD3⁻HLA-DR⁻"}}}},
   {"data":{"values":[{}]},"mark":{"type":"text","fontSize":13,"baseline":"alphabetic","dy":1},
    "encoding":{"x":{"datum":1.4,"type":"quantitative","scale":{"domain":[0.42,2.5],"nice":false,"zero":false},"axis":{"values":[1,2],"labelExpr":"datum.value==1?'HD':'CR'","title":null}},
     "y":{"datum":119.8,"type":"quantitative","scale":{"domain":[0,120],"nice":false,"zero":false},"axis":{"values":[0,40,80,120],"title":"% in CD3⁻HLA-DR⁻"}},"text":{"value":"****"}}},
   {"data":{"values":[{}]},"mark":{"type":"text","fontSize":14,"baseline":"middle"},
    "encoding":{"x":{"datum":1.2,"type":"quantitative","scale":{"domain":[0.42,2.5],"nice":false,"zero":false},"axis":{"values":[1,2],"labelExpr":"datum.value==1?'HD':'CR'","title":null}},
     "y":{"datum":138.3,"type":"quantitative","scale":{"domain":[0,120],"nice":false,"zero":false},"axis":{"values":[0,40,80,120],"title":"% in CD3⁻HLA-DR⁻"}},"text":{"value":"T-bet⁺"}}},
   {"data":{"values":[{}]},"mark":{"type":"text","fontSize":20,"baseline":"middle"},
    "encoding":{"x":{"datum":-0.62,"type":"quantitative","scale":{"domain":[0.42,2.5],"nice":false,"zero":false},"axis":{"values":[1,2],"labelExpr":"datum.value==1?'HD':'CR'","title":null}},
     "y":{"datum":137.8,"type":"quantitative","scale":{"domain":[0,120],"nice":false,"zero":false},"axis":{"values":[0,40,80,120],"title":"% in CD3⁻HLA-DR⁻"}},"text":{"value":"E"}}}
  ]},
  {"width":104,"height":156,"layer":[
   {"data":{"name":"f"},"mark":{"type":"point","shape":"circle","filled":true,"strokeWidth":1.6,"opacity":1},
    "encoding":{"x":{"field":"x","type":"quantitative","scale":{"domain":[0,100],"nice":false,"zero":false},"axis":{"values":[0,25,50,75,100],"labelOverlap":false,"labelFlush":false,"labelFontSize":13,"titlePadding":1,"title":"%IFN-γ⁺ in CD3⁻HLA-DR⁻","titleAnchor":"start","titleAlign":"left","titleX":-7}},
     "y":{"field":"y","type":"quantitative","scale":{"domain":[0,120],"nice":false,"zero":false},"axis":{"values":[0,40,80,120],"title":"% T-bet⁺ in CD3⁻HLA-DR⁻"}},
     "fill":{"condition":{"test":"datum.g=='HD'","value":"#ffffff"},"value":"#ec1c24"},
     "stroke":{"condition":{"test":"datum.g=='HD'","value":"#000000"},"value":"#ec1c24"},
     "size":{"condition":{"test":"datum.g=='HD'","value":18},"value":5},
     "order":{"field":"g","type":"ordinal","sort":"ascending"}}},
   {"data":{"name":"fl"},"transform":[{"filter":"datum.g=='CR'"}],"mark":{"type":"line","strokeWidth":1.6,"color":"#ec1c24"},
    "encoding":{"x":{"field":"x","type":"quantitative","scale":{"domain":[0,100],"nice":false,"zero":false},"axis":{"values":[0,25,50,75,100],"labelOverlap":false,"labelFlush":false,"labelFontSize":13,"titlePadding":1,"title":"%IFN-γ⁺ in CD3⁻HLA-DR⁻","titleAnchor":"start","titleAlign":"left","titleX":-7}},
     "y":{"field":"y","type":"quantitative","scale":{"domain":[0,120],"nice":false,"zero":false},"axis":{"values":[0,40,80,120],"title":"% T-bet⁺ in CD3⁻HLA-DR⁻"}}}},
   {"data":{"name":"fl"},"transform":[{"filter":"datum.g=='HD'"}],"mark":{"type":"line","strokeWidth":1.6,"color":"#000000"},
    "encoding":{"x":{"field":"x","type":"quantitative","scale":{"domain":[0,100],"nice":false,"zero":false},"axis":{"values":[0,25,50,75,100],"labelOverlap":false,"labelFlush":false,"labelFontSize":13,"titlePadding":1,"title":"%IFN-γ⁺ in CD3⁻HLA-DR⁻","titleAnchor":"start","titleAlign":"left","titleX":-7}},
     "y":{"field":"y","type":"quantitative","scale":{"domain":[0,120],"nice":false,"zero":false},"axis":{"values":[0,40,80,120],"title":"% T-bet⁺ in CD3⁻HLA-DR⁻"}}}},
   {"data":{"values":[{}]},"mark":{"type":"rule","strokeWidth":2,"color":"#000000"},
    "encoding":{"x":{"datum":15.1,"type":"quantitative","scale":{"domain":[0,100],"nice":false,"zero":false},"axis":{"values":[0,25,50,75,100],"labelOverlap":false,"labelFlush":false,"labelFontSize":13,"titlePadding":1,"title":"%IFN-γ⁺ in CD3⁻HLA-DR⁻","titleAnchor":"start","titleAlign":"left","titleX":-7}},"x2":{"datum":31.7},
     "y":{"datum":123.5,"type":"quantitative","scale":{"domain":[0,120],"nice":false,"zero":false},"axis":{"values":[0,40,80,120],"title":"% T-bet⁺ in CD3⁻HLA-DR⁻"}}}},
   {"data":{"values":[{}]},"mark":{"type":"point","shape":"circle","filled":true,"size":22,"color":"#000000","opacity":1},
    "encoding":{"x":{"datum":23.4,"type":"quantitative","scale":{"domain":[0,100],"nice":false,"zero":false},"axis":{"values":[0,25,50,75,100],"labelOverlap":false,"labelFlush":false,"labelFontSize":13,"titlePadding":1,"title":"%IFN-γ⁺ in CD3⁻HLA-DR⁻","titleAnchor":"start","titleAlign":"left","titleX":-7}},
     "y":{"datum":123.5,"type":"quantitative","scale":{"domain":[0,120],"nice":false,"zero":false},"axis":{"values":[0,40,80,120],"title":"% T-bet⁺ in CD3⁻HLA-DR⁻"}}}},
   {"data":{"values":[{}]},"mark":{"type":"text","fontSize":13.5,"align":"left","baseline":"middle"},
    "encoding":{"x":{"datum":34.3,"type":"quantitative","scale":{"domain":[0,100],"nice":false,"zero":false},"axis":{"values":[0,25,50,75,100],"labelOverlap":false,"labelFlush":false,"labelFontSize":13,"titlePadding":1,"title":"%IFN-γ⁺ in CD3⁻HLA-DR⁻","titleAnchor":"start","titleAlign":"left","titleX":-7}},
     "y":{"datum":123.5,"type":"quantitative","scale":{"domain":[0,120],"nice":false,"zero":false},"axis":{"values":[0,40,80,120],"title":"% T-bet⁺ in CD3⁻HLA-DR⁻"}},"text":{"value":"HD"}}},
   {"data":{"values":[{}]},"mark":{"type":"rule","strokeWidth":2,"color":"#ec1c24"},
    "encoding":{"x":{"datum":81.4,"type":"quantitative","scale":{"domain":[0,100],"nice":false,"zero":false},"axis":{"values":[0,25,50,75,100],"labelOverlap":false,"labelFlush":false,"labelFontSize":13,"titlePadding":1,"title":"%IFN-γ⁺ in CD3⁻HLA-DR⁻","titleAnchor":"start","titleAlign":"left","titleX":-7}},"x2":{"datum":92},
     "y":{"datum":123.5,"type":"quantitative","scale":{"domain":[0,120],"nice":false,"zero":false},"axis":{"values":[0,40,80,120],"title":"% T-bet⁺ in CD3⁻HLA-DR⁻"}}}},
   {"data":{"values":[{}]},"mark":{"type":"point","shape":"circle","filled":true,"size":14,"color":"#ec1c24","opacity":1},
    "encoding":{"x":{"datum":86.7,"type":"quantitative","scale":{"domain":[0,100],"nice":false,"zero":false},"axis":{"values":[0,25,50,75,100],"labelOverlap":false,"labelFlush":false,"labelFontSize":13,"titlePadding":1,"title":"%IFN-γ⁺ in CD3⁻HLA-DR⁻","titleAnchor":"start","titleAlign":"left","titleX":-7}},
     "y":{"datum":123.5,"type":"quantitative","scale":{"domain":[0,120],"nice":false,"zero":false},"axis":{"values":[0,40,80,120],"title":"% T-bet⁺ in CD3⁻HLA-DR⁻"}}}},
   {"data":{"values":[{}]},"mark":{"type":"text","fontSize":13.5,"align":"left","baseline":"middle","color":"#ec1c24"},
    "encoding":{"x":{"datum":94.5,"type":"quantitative","scale":{"domain":[0,100],"nice":false,"zero":false},"axis":{"values":[0,25,50,75,100],"labelOverlap":false,"labelFlush":false,"labelFontSize":13,"titlePadding":1,"title":"%IFN-γ⁺ in CD3⁻HLA-DR⁻","titleAnchor":"start","titleAlign":"left","titleX":-7}},
     "y":{"datum":123.5,"type":"quantitative","scale":{"domain":[0,120],"nice":false,"zero":false},"axis":{"values":[0,40,80,120],"title":"% T-bet⁺ in CD3⁻HLA-DR⁻"}},"text":{"value":"CR"}}},
   {"data":{"values":[{}]},"mark":{"type":"text","fontSize":14,"align":"left","baseline":"middle","fontStyle":"italic"},
    "encoding":{"x":{"datum":12.5,"type":"quantitative","scale":{"domain":[0,100],"nice":false,"zero":false},"axis":{"values":[0,25,50,75,100],"labelOverlap":false,"labelFlush":false,"labelFontSize":13,"titlePadding":1,"title":"%IFN-γ⁺ in CD3⁻HLA-DR⁻","titleAnchor":"start","titleAlign":"left","titleX":-7}},
     "y":{"datum":111.3,"type":"quantitative","scale":{"domain":[0,120],"nice":false,"zero":false},"axis":{"values":[0,40,80,120],"title":"% T-bet⁺ in CD3⁻HLA-DR⁻"}},"text":{"value":"P"}}},
   {"data":{"values":[{}]},"mark":{"type":"text","fontSize":14,"align":"left","baseline":"middle","dx":9.5},
    "encoding":{"x":{"datum":12.5,"type":"quantitative","scale":{"domain":[0,100],"nice":false,"zero":false},"axis":{"values":[0,25,50,75,100],"labelOverlap":false,"labelFlush":false,"labelFontSize":13,"titlePadding":1,"title":"%IFN-γ⁺ in CD3⁻HLA-DR⁻","titleAnchor":"start","titleAlign":"left","titleX":-7}},
     "y":{"datum":111.3,"type":"quantitative","scale":{"domain":[0,120],"nice":false,"zero":false},"axis":{"values":[0,40,80,120],"title":"% T-bet⁺ in CD3⁻HLA-DR⁻"}},"text":{"value":"=0.0032"}}},
   {"data":{"values":[{}]},"mark":{"type":"text","fontSize":14,"align":"left","baseline":"middle","fontStyle":"italic","color":"#ec1c24"},
    "encoding":{"x":{"datum":79.8,"type":"quantitative","scale":{"domain":[0,100],"nice":false,"zero":false},"axis":{"values":[0,25,50,75,100],"labelOverlap":false,"labelFlush":false,"labelFontSize":13,"titlePadding":1,"title":"%IFN-γ⁺ in CD3⁻HLA-DR⁻","titleAnchor":"start","titleAlign":"left","titleX":-7}},
     "y":{"datum":111.3,"type":"quantitative","scale":{"domain":[0,120],"nice":false,"zero":false},"axis":{"values":[0,40,80,120],"title":"% T-bet⁺ in CD3⁻HLA-DR⁻"}},"text":{"value":"P"}}},
   {"data":{"values":[{}]},"mark":{"type":"text","fontSize":14,"align":"left","baseline":"middle","dx":9.5,"color":"#ec1c24"},
    "encoding":{"x":{"datum":79.8,"type":"quantitative","scale":{"domain":[0,100],"nice":false,"zero":false},"axis":{"values":[0,25,50,75,100],"labelOverlap":false,"labelFlush":false,"labelFontSize":13,"titlePadding":1,"title":"%IFN-γ⁺ in CD3⁻HLA-DR⁻","titleAnchor":"start","titleAlign":"left","titleX":-7}},
     "y":{"datum":111.3,"type":"quantitative","scale":{"domain":[0,120],"nice":false,"zero":false},"axis":{"values":[0,40,80,120],"title":"% T-bet⁺ in CD3⁻HLA-DR⁻"}},"text":{"value":"=0.8924"}}}
  ]}
],"spacing":54,"bounds":"flush"}
]
}
